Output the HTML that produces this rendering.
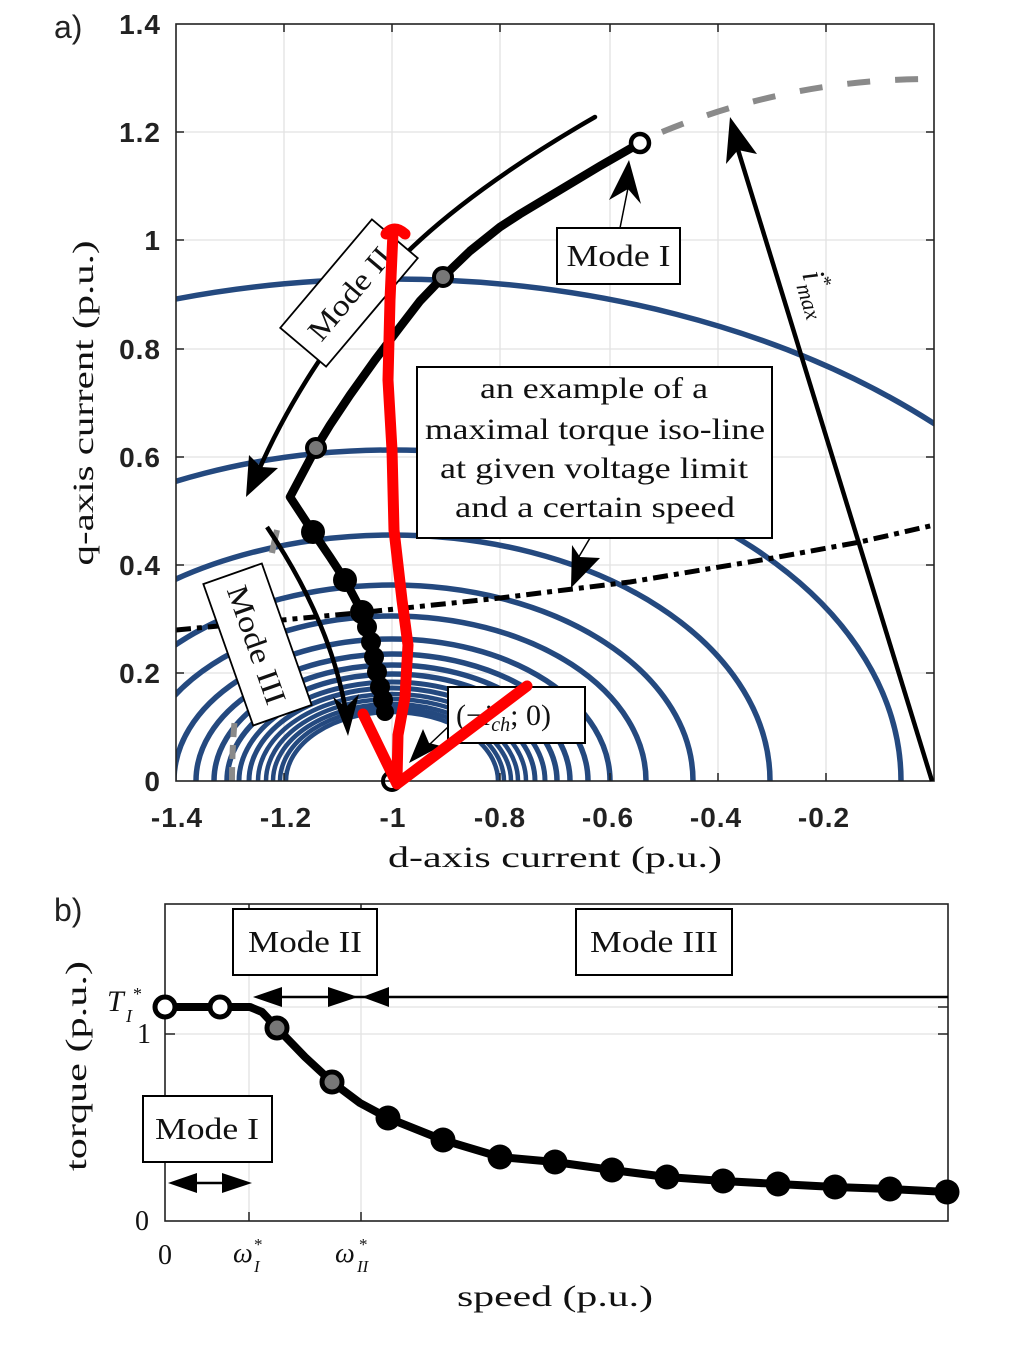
<!DOCTYPE html>
<html><head><meta charset="utf-8"><style>
html,body{margin:0;padding:0;background:#fff;}
svg{display:block;}
.tk{font-family:"Liberation Sans",sans-serif;font-weight:bold;font-size:28px;fill:#222;letter-spacing:1px;}
.sf{font-family:"Liberation Serif",serif;fill:#111;}
</style></head><body>
<svg width="1019" height="1358" viewBox="0 0 1019 1358" xmlns="http://www.w3.org/2000/svg">
<rect width="1019" height="1358" fill="#fff"/>
<defs>
<clipPath id="pa"><rect x="176" y="24" width="758" height="757"/></clipPath>
</defs>

<!-- ===== Panel a ===== -->
<g stroke="#e2e2e2" stroke-width="1.3">
<line x1="284" y1="24" x2="284" y2="781"/><line x1="392" y1="24" x2="392" y2="781"/>
<line x1="500" y1="24" x2="500" y2="781"/><line x1="610" y1="24" x2="610" y2="781"/>
<line x1="718" y1="24" x2="718" y2="781"/><line x1="826" y1="24" x2="826" y2="781"/>
<line x1="176" y1="132" x2="934" y2="132"/><line x1="176" y1="240" x2="934" y2="240"/>
<line x1="176" y1="349" x2="934" y2="349"/><line x1="176" y1="457" x2="934" y2="457"/>
<line x1="176" y1="565" x2="934" y2="565"/><line x1="176" y1="673" x2="934" y2="673"/>
</g>

<g clip-path="url(#pa)" fill="none" stroke="#24497f" stroke-width="5.5">
<ellipse cx="392" cy="781" rx="772" ry="502"/>
<ellipse cx="392" cy="781" rx="509" ry="331"/>
<ellipse cx="392" cy="781" rx="378" ry="246"/>
<ellipse cx="392" cy="781" rx="301" ry="196"/>
<ellipse cx="392" cy="781" rx="254" ry="165"/>
<ellipse cx="392" cy="781" rx="218" ry="142"/>
<ellipse cx="392" cy="781" rx="196" ry="127"/>
<ellipse cx="392" cy="781" rx="178" ry="116"/>
<ellipse cx="392" cy="781" rx="165" ry="107"/>
<ellipse cx="392" cy="781" rx="153" ry="99" stroke-width="5"/>
<ellipse cx="392" cy="781" rx="143" ry="93" stroke-width="5"/>
<ellipse cx="392" cy="781" rx="134" ry="87" stroke-width="4.5"/>
<ellipse cx="392" cy="781" rx="126" ry="82" stroke-width="4.5"/>
<ellipse cx="392" cy="781" rx="119" ry="77" stroke-width="4.5"/>
<ellipse cx="392" cy="781" rx="112" ry="73" stroke-width="4.5"/>
<ellipse cx="392" cy="781" rx="106" ry="69" stroke-width="4.5"/>
</g>

<!-- gray dashed current-limit circle -->
<g clip-path="url(#pa)" fill="none" stroke="#8a8a8a" stroke-width="6" stroke-dasharray="23 25">
<path d="M662,132 A702,702 0 0 1 934,79"/>
<path d="M232,781 A702,702 0 0 1 234.6,721" stroke-dasharray="14 8"/>
<path d="M272,553 A702,702 0 0 1 277,530" stroke-dasharray="none"/>
</g>

<!-- dash-dot iso torque line -->
<polyline clip-path="url(#pa)" points="176,630 367,612 500,598 540,593 630,582 773,558 860,542 934,525" fill="none" stroke="#000" stroke-width="5" stroke-dasharray="15 6 5 6"/>

<!-- axes box -->
<rect x="176" y="24" width="758" height="757" fill="none" stroke="#222" stroke-width="1.6"/>
<g stroke="#222" stroke-width="1.5">
<line x1="284" y1="781" x2="284" y2="773"/><line x1="392" y1="781" x2="392" y2="773"/><line x1="500" y1="781" x2="500" y2="773"/>
<line x1="610" y1="781" x2="610" y2="773"/><line x1="718" y1="781" x2="718" y2="773"/><line x1="826" y1="781" x2="826" y2="773"/>
<line x1="284" y1="24" x2="284" y2="32"/><line x1="392" y1="24" x2="392" y2="32"/><line x1="500" y1="24" x2="500" y2="32"/>
<line x1="610" y1="24" x2="610" y2="32"/><line x1="718" y1="24" x2="718" y2="32"/><line x1="826" y1="24" x2="826" y2="32"/>
<line x1="176" y1="132" x2="184" y2="132"/><line x1="176" y1="240" x2="184" y2="240"/><line x1="176" y1="349" x2="184" y2="349"/>
<line x1="176" y1="457" x2="184" y2="457"/><line x1="176" y1="565" x2="184" y2="565"/><line x1="176" y1="673" x2="184" y2="673"/>
<line x1="934" y1="132" x2="926" y2="132"/><line x1="934" y1="240" x2="926" y2="240"/><line x1="934" y1="349" x2="926" y2="349"/>
<line x1="934" y1="457" x2="926" y2="457"/><line x1="934" y1="565" x2="926" y2="565"/><line x1="934" y1="673" x2="926" y2="673"/>
</g>

<!-- i_max arrow -->
<line x1="932" y1="781" x2="735" y2="140" stroke="#000" stroke-width="4.5"/>
<polygon points="730,117 726,164 738,150 757,154" fill="#000"/>
<text class="sf" transform="translate(802,274) rotate(73)" font-style="italic" font-size="32">i<tspan font-size="20" dy="-13" font-style="normal">*</tspan><tspan font-size="22" dx="-9" dy="22">max</tspan></text>

<!-- Mode II thin arrow -->
<path d="M595,117 C520,160 440,215 390,270 C330,335 285,410 258,472" fill="none" stroke="#000" stroke-width="4.5" stroke-linecap="round"/>
<polygon points="246,497 249,455 261,467 278,468" fill="#000"/>

<!-- Mode III thin arrow -->
<path d="M267,527 Q330,620 346,712" fill="none" stroke="#000" stroke-width="4.5"/>
<polygon points="348,736 333,697 346,707 359,694" fill="#000"/>

<!-- thick trajectory -->
<polyline points="640,143 600,166 560,190 520,214 500,227 470,251 443,277 420,301 400,327 375,360 350,395 330,425 316,448 290,497 313,532 330,557 345,580 362,612 372,640 380,680 385,712" fill="none" stroke="#000" stroke-width="8.5" stroke-linejoin="round" stroke-linecap="round"/>
<g fill="#000">
<circle cx="313" cy="532" r="12"/><circle cx="345" cy="580" r="12"/><circle cx="362" cy="612" r="12"/>
<circle cx="367" cy="627" r="10"/><circle cx="371" cy="642" r="10"/><circle cx="374" cy="657" r="10"/>
<circle cx="377" cy="672" r="10"/><circle cx="380" cy="687" r="10"/><circle cx="383" cy="700" r="10"/><circle cx="385" cy="712" r="9"/>
</g>
<circle cx="443" cy="277" r="9" fill="#777" stroke="#000" stroke-width="4"/>
<circle cx="316" cy="448" r="9" fill="#777" stroke="#000" stroke-width="4"/>
<circle cx="640" cy="143" r="9" fill="#fff" stroke="#000" stroke-width="4.5"/>
<circle cx="392" cy="781" r="9" fill="none" stroke="#000" stroke-width="4"/>

<!-- Mode I box -->
<line x1="620" y1="228" x2="628" y2="188" stroke="#000" stroke-width="1.5"/>
<polygon points="629,160 609,200 628,189 641,204" fill="#000"/>
<rect x="557" y="228" width="123" height="56" fill="#fff" stroke="#000" stroke-width="2"/>
<text class="sf" x="618.5" y="266" font-size="31" text-anchor="middle" textLength="104" lengthAdjust="spacingAndGlyphs">Mode I</text>

<!-- big annotation -->
<line x1="590" y1="538" x2="577" y2="560" stroke="#000" stroke-width="1.5"/>
<polygon points="571,588 572,545 580,557 600,558" fill="#000"/>
<rect x="417" y="367" width="355" height="171" fill="#fff" stroke="#000" stroke-width="2"/>
<g class="sf" font-size="30" text-anchor="middle">
<text x="594" y="398" textLength="228" lengthAdjust="spacingAndGlyphs">an example of a</text>
<text x="595" y="439" textLength="340" lengthAdjust="spacingAndGlyphs">maximal torque iso-line</text>
<text x="594" y="478" textLength="308" lengthAdjust="spacingAndGlyphs">at given voltage limit</text>
<text x="595" y="517" textLength="280" lengthAdjust="spacingAndGlyphs">and a certain speed</text>
</g>

<!-- (-i_ch;0) box -->
<line x1="448" y1="727" x2="430" y2="744" stroke="#000" stroke-width="1.5"/>
<polygon points="409,763 423,729 429,743 441,746" fill="#000"/>
<rect x="448" y="687" width="137" height="56" fill="#fff" stroke="#000" stroke-width="2"/>
<text class="sf" x="456" y="725" font-size="30">(−<tspan font-style="italic">i</tspan><tspan font-size="20" font-style="italic" dy="6">ch</tspan><tspan dy="-6">; 0)</tspan></text>

<!-- Mode II rotated box -->
<g transform="translate(349,293) rotate(-49.8)">
<rect x="-71" y="-30" width="142" height="60" fill="#fff" stroke="#000" stroke-width="1.8"/>
<text class="sf" x="0" y="11" font-size="30" text-anchor="middle" textLength="112" lengthAdjust="spacingAndGlyphs">Mode II</text>
</g>
<!-- Mode III rotated box -->
<g transform="translate(257.5,644.5) rotate(70.6)">
<rect x="-75" y="-31" width="150" height="62" fill="#fff" stroke="#000" stroke-width="1.8"/>
<text class="sf" x="0" y="11" font-size="30" text-anchor="middle" textLength="124" lengthAdjust="spacingAndGlyphs">Mode III</text>
</g>

<!-- red hand drawing -->
<g fill="none" stroke="#ff0000" stroke-width="11" stroke-linecap="round" stroke-linejoin="round">
<path d="M386,234 Q394,224 405,234"/>
<polyline points="393,232 390,300 388,380 392,450 394,530 402,600 408,645 405,697 398,735 397,780"/>
<polyline points="363,714 397,784 527,686"/>
</g>

<!-- tick labels a -->
<g class="tk" text-anchor="end">
<text x="161" y="34">1.4</text><text x="161" y="142">1.2</text><text x="161" y="250">1</text>
<text x="161" y="359">0.8</text><text x="161" y="467">0.6</text><text x="161" y="575">0.4</text>
<text x="161" y="683">0.2</text><text x="161" y="791">0</text>
</g>
<g class="tk" text-anchor="middle">
<text x="177" y="827">-1.4</text><text x="286" y="827">-1.2</text><text x="393" y="827">-1</text>
<text x="500" y="827">-0.8</text><text x="608" y="827">-0.6</text><text x="716" y="827">-0.4</text><text x="824" y="827">-0.2</text>
</g>
<text class="sf" x="555" y="867" font-size="30" text-anchor="middle" textLength="334" lengthAdjust="spacingAndGlyphs">d-axis current (p.u.)</text>
<text class="sf" transform="translate(93,403) rotate(-90)" font-size="30" text-anchor="middle" textLength="325" lengthAdjust="spacingAndGlyphs">q-axis current (p.u.)</text>
<text x="54" y="38" font-family="Liberation Sans,sans-serif" font-size="32" fill="#222">a)</text>

<!-- ===== Panel b ===== -->
<g stroke="#e2e2e2" stroke-width="1.3">
<line x1="249" y1="904" x2="249" y2="1221"/><line x1="361" y1="904" x2="361" y2="1221"/>
<line x1="165" y1="1007" x2="948" y2="1007"/><line x1="165" y1="1034" x2="948" y2="1034"/>
</g>
<rect x="165" y="904" width="783" height="317" fill="none" stroke="#222" stroke-width="1.6"/>
<g stroke="#222" stroke-width="1.5">
<line x1="249" y1="1221" x2="249" y2="1212"/><line x1="361" y1="1221" x2="361" y2="1212"/>
<line x1="249" y1="904" x2="249" y2="913"/><line x1="361" y1="904" x2="361" y2="913"/>
<line x1="165" y1="1034" x2="175" y2="1034"/><line x1="948" y1="1034" x2="938" y2="1034"/><line x1="948" y1="1007" x2="938" y2="1007"/>
</g>

<!-- mode arrows -->
<line x1="265" y1="997" x2="948" y2="997" stroke="#000" stroke-width="2.5"/>
<polygon points="253,997 282,987 282,1007" fill="#000"/>
<polygon points="358,997 328,987 328,1007" fill="#000"/>
<polygon points="362,997 389,987 389,1007" fill="#000"/>
<line x1="180" y1="1183" x2="240" y2="1183" stroke="#000" stroke-width="2.5"/>
<polygon points="168,1183 197,1173 197,1193" fill="#000"/>
<polygon points="252,1183 222,1173 222,1193" fill="#000"/>

<!-- torque curve -->
<polyline points="165,1007 220,1007 250,1007 262,1012 277,1028 305,1057 332,1082 360,1103 388,1118 443,1140 500,1157 555,1162 612,1170 667,1177 723,1181 778,1184 835,1187 890,1189 947,1192" fill="none" stroke="#000" stroke-width="8" stroke-linejoin="round"/>
<g fill="#000">
<circle cx="388" cy="1118" r="12.5"/><circle cx="443" cy="1140" r="12.5"/><circle cx="500" cy="1157" r="12.5"/>
<circle cx="555" cy="1162" r="12.5"/><circle cx="612" cy="1170" r="12.5"/><circle cx="667" cy="1177" r="12.5"/>
<circle cx="723" cy="1181" r="12.5"/><circle cx="778" cy="1184" r="12.5"/><circle cx="835" cy="1187" r="12.5"/>
<circle cx="890" cy="1189" r="12.5"/><circle cx="947" cy="1192" r="12.5"/>
</g>
<circle cx="277" cy="1028" r="10" fill="#777" stroke="#000" stroke-width="5"/>
<circle cx="332" cy="1082" r="10" fill="#777" stroke="#000" stroke-width="5"/>
<circle cx="165" cy="1007" r="10" fill="#fff" stroke="#000" stroke-width="5"/>
<circle cx="220" cy="1007" r="10" fill="#fff" stroke="#000" stroke-width="5"/>

<!-- boxes b -->
<rect x="233" y="909" width="144" height="66" fill="#fff" stroke="#000" stroke-width="2"/>
<text class="sf" x="305" y="952" font-size="31" text-anchor="middle" textLength="114" lengthAdjust="spacingAndGlyphs">Mode II</text>
<rect x="576" y="909" width="156" height="66" fill="#fff" stroke="#000" stroke-width="2"/>
<text class="sf" x="654" y="952" font-size="31" text-anchor="middle" textLength="128" lengthAdjust="spacingAndGlyphs">Mode III</text>
<rect x="143" y="1096" width="129" height="66" fill="#fff" stroke="#000" stroke-width="2"/>
<text class="sf" x="207" y="1139" font-size="31" text-anchor="middle" textLength="104" lengthAdjust="spacingAndGlyphs">Mode I</text>

<!-- labels b -->
<text class="sf" x="107" y="1011" font-size="30" font-style="italic" fill="#333">T</text>
<text class="sf" x="133" y="1000" font-size="18" fill="#333">*</text>
<text class="sf" x="126" y="1022" font-size="18" font-style="italic" fill="#333">I</text>
<text class="sf" x="137" y="1043" font-size="28" fill="#333">1</text>
<text class="sf" x="135" y="1230" font-size="28" fill="#333">0</text>
<text class="sf" x="165" y="1264" font-size="28" fill="#333" text-anchor="middle">0</text>
<text class="sf" x="233" y="1262" font-size="28" font-style="italic" fill="#333">ω</text>
<text class="sf" x="254" y="1250" font-size="17" fill="#333">*</text>
<text class="sf" x="254" y="1272" font-size="17" font-style="italic" fill="#333">I</text>
<text class="sf" x="335" y="1262" font-size="28" font-style="italic" fill="#333">ω</text>
<text class="sf" x="359" y="1250" font-size="17" fill="#333">*</text>
<text class="sf" x="357" y="1272" font-size="17" font-style="italic" fill="#333">II</text>
<text class="sf" x="555" y="1306" font-size="30" text-anchor="middle" textLength="196" lengthAdjust="spacingAndGlyphs">speed (p.u.)</text>
<text class="sf" transform="translate(86,1066) rotate(-90)" font-size="30" text-anchor="middle" textLength="210" lengthAdjust="spacingAndGlyphs">torque (p.u.)</text>
<text x="54" y="921" font-family="Liberation Sans,sans-serif" font-size="32" fill="#222">b)</text>
</svg>
</body></html>
